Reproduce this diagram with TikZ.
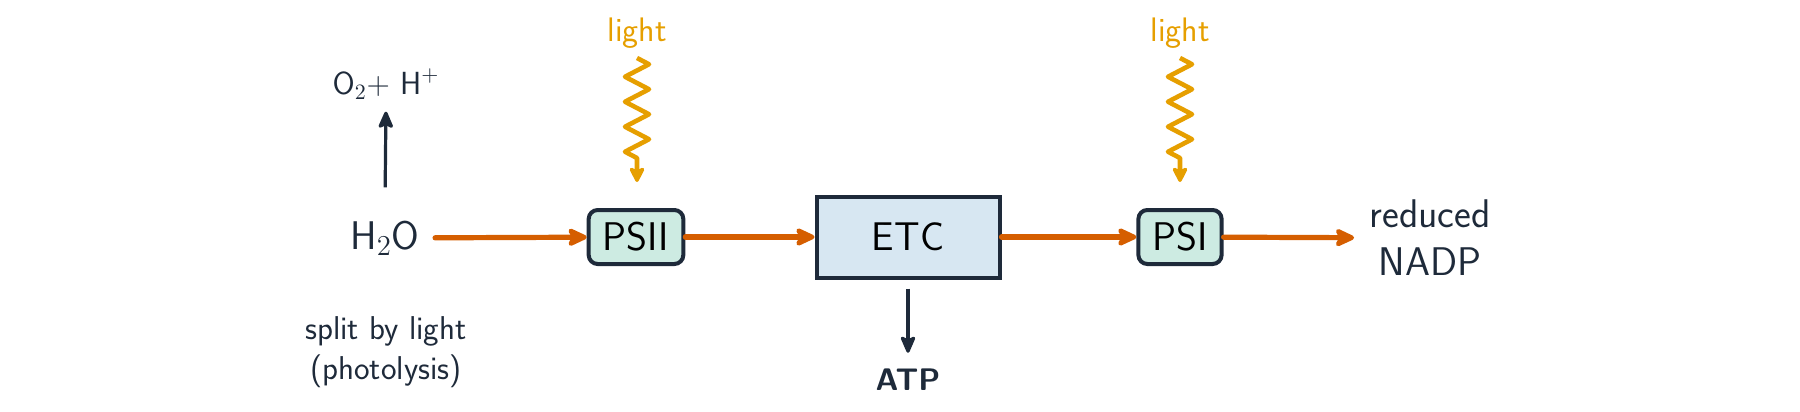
\documentclass[tikz,border=0pt]{standalone}
\usetikzlibrary{arrows.meta,decorations.pathmorphing}
\definecolor{ink}{HTML}{1E2A3A}
\definecolor{flow}{HTML}{D55E00}
\definecolor{lightc}{HTML}{E69F00}
\definecolor{mint}{HTML}{CDEBE2}
\definecolor{paleblue}{HTML}{D7E7F2}
\begin{document}
\begin{tikzpicture}[x=0.5pt,y=-0.5pt,
  txt/.style={text=ink,font=\sffamily\fontsize{20}{24}\selectfont,inner sep=7.5pt,align=center},
  small/.style={text=ink,font=\sffamily\fontsize{16.5}{20}\selectfont,align=center},
  lbl/.style={text=lightc,font=\sffamily\fontsize{17}{20}\selectfont,inner sep=1pt},
  psbox/.style={draw=ink,line width=2pt,fill=mint,rounded corners=4.5pt,font=\sffamily\fontsize{20}{24}\selectfont,inner xsep=7pt,minimum height=27pt,inner ysep=0pt},
  etcbox/.style={draw=ink,line width=2pt,fill=paleblue,font=\sffamily\fontsize{20}{24}\selectfont,minimum width=91.5pt,minimum height=40.5pt},
  flowarrow/.style={draw=flow,line width=2.6pt,line cap=round,-{Stealth[length=12pt,width=11pt,inset=3pt,round]}},
  darkarrow/.style={draw=ink,line width=1.6pt,-{Stealth[length=10pt,width=8.5pt,inset=2pt,round]}},
  wave/.style={draw=lightc,line width=2.3pt,line join=round,decorate,decoration={zigzag,amplitude=6pt,segment length=12.5pt,post length=6pt},-{Stealth[length=9pt,width=9pt,inset=2pt,round]}}
]
\path[use as bounding box] (0,0) rectangle (1800,412);

\node[txt] (h2o) at (385,238) {H$_2$O};
\node[psbox] (psii) at (636,237) {PSII};
\node[etcbox] (etc) at (908,237) {ETC};
\node[psbox] (psi) at (1180,237) {PSI};
\node[txt] (nadp) at (1430,238) {reduced\\NADP};

\node[text=ink,font=\sffamily\fontsize{16}{19}\selectfont,inner sep=2pt] (o2) at (386,84) {O$_2$+ H$^+$};
\node[small] (split) at (386,352) {split by light\\(photolysis)};
\node[text=ink,font=\sffamily\bfseries\fontsize{15.6}{18}\selectfont,inner sep=2pt] (atp) at (908,380) {ATP};

\node[lbl] (l1) at (637,33) {light};
\node[lbl] (l2) at (1180,33) {light};
\coordinate (z1s) at (637,58);
\coordinate (z1e) at (637,182);
\coordinate (z2s) at (1180,58);
\coordinate (z2e) at (1180,182);

\draw[flowarrow] (h2o) -- (psii);
\draw[flowarrow] (psii) -- (etc);
\draw[flowarrow] (etc) -- (psi);
\draw[flowarrow] (psi) -- (nadp);

\draw[darkarrow,shorten <=9pt,shorten >=4pt] (h2o.north) -- (o2.south);
\draw[darkarrow,shorten <=4.5pt,shorten >=6pt] (etc.south) -- (atp.north);

\draw[wave] (z1s) -- (z1e);
\draw[wave] (z2s) -- (z2e);
\end{tikzpicture}
\end{document}
